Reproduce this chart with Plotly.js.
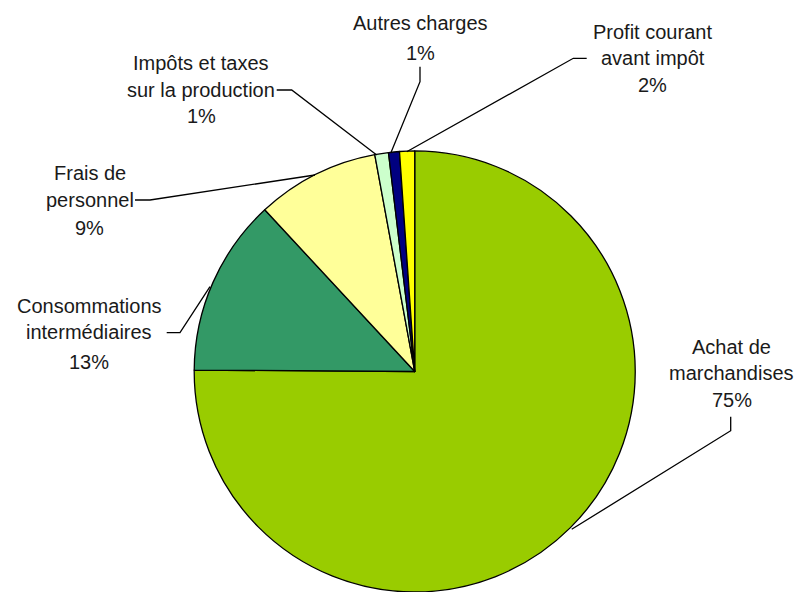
<!DOCTYPE html>
<html>
<head>
<meta charset="utf-8">
<script src="https://cdn.plot.ly/plotly-3.0.1.min.js"></script>
<style>html,body{margin:0;padding:0;background:#fff;}#chart{width:798px;height:592px;}</style>
</head>
<body>
<div id="chart"></div>
<script>
// Data
var categories = ["Achat de marchandises", "Consommations intermédiaires", "Frais de personnel",
  "Impôts et taxes sur la production", "Autres charges", "Profit courant avant impôt"];
var values = [75.1, 13.0, 9.0, 1.0, 0.8, 1.1];
var percentLabels = ["75%", "13%", "9%", "1%", "1%", "2%"];
var labelLines = [
  ["Achat de", "marchandises", "75%"],
  ["Consommations", "intermédiaires", "13%"],
  ["Frais de", "personnel", "9%"],
  ["Impôts et taxes", "sur la production", "1%"],
  ["Autres charges", "1%"],
  ["Profit courant", "avant impôt", "2%"]
];
var colors = ["#99CC00", "#339966", "#FFFF99", "#CCFFCC", "#000080", "#FFFF00"];

// Layout helpers (pixel -> paper)
var W = 798, H = 592;
function px(x) { return x / W; }
function py(y) { return 1 - y / H; }

// label layout: center x, line center ys
var labelPos = [
  {x: 731.7, ys: [346.7, 373.3, 400]},
  {x: 89, ys: [306, 332, 361.7]},
  {x: 89.7, ys: [172.7, 200, 228]},
  {x: 201, ys: [62.7, 90, 116]},
  {x: 420, ys: [23, 53]},
  {x: 652.7, ys: [32, 58.3, 85]}
];
// leader polylines
var leaders = [
  [[730.7, 416.7], [730.7, 430.7], [571.7, 529.3]],
  [[166.7, 332.7], [180, 332.7], [210, 286.7]],
  [[135, 200], [150, 200], [315, 175]],
  [[276.7, 90], [291.7, 90], [376.7, 155]],
  [[420, 66.7], [420, 81.7], [390.7, 153.3]],
  [[586.7, 58.3], [573.3, 58.3], [406.7, 151.7]]
];

var annotations = [];
labelLines.forEach(function (lines, i) {
  lines.forEach(function (t, j) {
    annotations.push({
      text: t, xref: "paper", yref: "paper",
      x: px(labelPos[i].x), y: py(labelPos[i].ys[j]),
      xanchor: "center", yanchor: "middle", showarrow: false,
      font: {family: "Liberation Sans, Arial, sans-serif", size: 20, color: "#1a1a1a"}
    });
  });
});

var shapes = leaders.map(function (pts) {
  var d = pts.map(function (p, k) { return (k ? "L" : "M") + px(p[0]) + "," + py(p[1]); }).join(" ");
  return {type: "path", xref: "paper", yref: "paper", path: d, line: {color: "#000", width: 1.3}};
});

var trace = {
  type: "pie",
  labels: categories,
  values: values,
  text: percentLabels,
  sort: false,
  direction: "clockwise",
  rotation: 0,
  textinfo: "none",
  hoverinfo: "label+text",
  marker: {colors: colors, line: {color: "#000", width: 1.3}},
  domain: {x: [0.2410, 0.7984], y: [0, 0.7450]}
};

var layout = {
  width: W, height: H,
  margin: {l: 0, r: 0, t: 0, b: 0},
  showlegend: false,
  paper_bgcolor: "#fff",
  annotations: annotations,
  shapes: shapes
};

Plotly.newPlot("chart", [trace], layout, {displayModeBar: false, staticPlot: true});
</script>
</body>
</html>
